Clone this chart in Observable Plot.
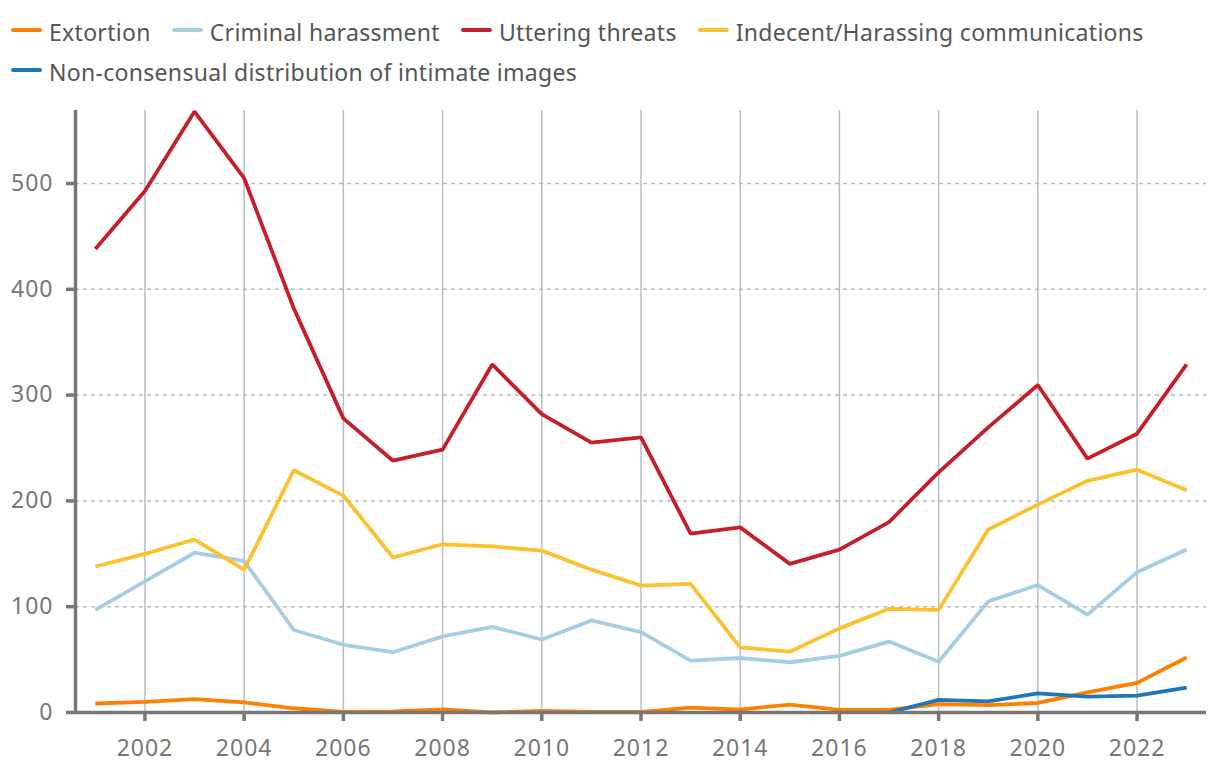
<!DOCTYPE html>
<html>
<head>
<meta charset="utf-8">
<script src="https://cdn.jsdelivr.net/npm/d3@7"></script>
<script src="https://cdn.jsdelivr.net/npm/@observablehq/plot@0.6"></script>
<style>
  html, body { margin: 0; padding: 0; background: #fff; }
  body { width: 1220px; height: 772px; overflow: hidden; font-family: "Noto Sans", sans-serif; }
  #legend { height: 95px; box-sizing: border-box; padding: 12px 0 0 11px; color: #555; font-size: 23px; letter-spacing: 0.3px; }
  .row { height: 40px; display: flex; align-items: center; white-space: nowrap; }
  .item { display: flex; align-items: center; margin-right: 21px; }
  .sw { width: 31px; height: 4px; border-radius: 2px; margin-right: 7px; position: relative; top: -2px; }
  #chart svg text { letter-spacing: 1px; }
</style>
</head>
<body>
<div id="legend"></div>
<div id="chart"></div>
<script>
const years = [2001,2002,2003,2004,2005,2006,2007,2008,2009,2010,2011,2012,2013,2014,2015,2016,2017,2018,2019,2020,2021,2022,2023];
const seriesNames = ["Extortion", "Criminal harassment", "Uttering threats", "Indecent/Harassing communications", "Non-consensual distribution of intimate images"];
const seriesColors = ["#ff7f00", "#a6cee3", "#c4202a", "#fbc12e", "#1f78b4"];
const extortion = [8.5,10,12.7,9.5,4,0.5,1,3,0,1.5,0.5,0.5,4.7,2.8,7.5,2.5,2.5,8,7,9,19,28,52];
const criminalHarassment = [97,124,151,143,78,64,57,72,81,69,87,76,49,51.5,47.5,53.5,67,48,105,120.5,92.5,132.5,154];
const utteringThreats = [438,493,568,505,382,278,238,248.5,329,282,255,260,169,175,140.5,154,180,227,269.5,309.5,240,263.5,329];
const indecent = [138,150,163.5,135,229,205,146.5,159,157,153,135,120,121.5,61.5,57.5,79.5,98,97,173,196.5,219,229.5,210];
const ncdii = [null,null,null,null,null,null,null,null,null,null,null,null,null,null,null,null,0,12,10.5,18,15,16,23.5];
const xTicks = [2002,2004,2006,2008,2010,2012,2014,2016,2018,2020,2022];
const yTicks = [0,100,200,300,400,500];

const allSeries = [extortion, criminalHarassment, utteringThreats, indecent, ncdii];
const data = [];
allSeries.forEach((arr, i) => arr.forEach((v, j) => { if (v !== null) data.push({year: years[j], value: v, series: seriesNames[i]}); }));

// Legend
const legend = document.getElementById("legend");
const rows = [[0,1,2,3],[4]];
rows.forEach(r => {
  const row = document.createElement("div"); row.className = "row";
  r.forEach(i => {
    const it = document.createElement("div"); it.className = "item";
    it.innerHTML = `<span class="sw" style="background:${seriesColors[i]}"></span><span>${seriesNames[i]}</span>`;
    row.appendChild(it);
  });
  legend.appendChild(row);
});

const x0 = 2000.6, x1 = 2023.4;
const chart = Plot.plot({
  width: 1220,
  height: 677,
  marginLeft: 75,
  marginRight: 14,
  marginTop: 15,
  marginBottom: 60,
  style: { fontFamily: "Noto Sans, sans-serif", fontSize: "23px", color: "#777", background: "#fff" },
  x: { domain: [x0, x1] },
  y: { domain: [0, 569] },
  color: { domain: seriesNames, range: seriesColors },
  marks: [
    Plot.ruleX(xTicks, { stroke: "#b3bfc8", strokeWidth: 1.5 }),
    Plot.ruleY(yTicks.filter(d => d > 0), { stroke: "#b3bcc4", strokeWidth: 1.5, strokeDasharray: "4,4" }),
    Plot.axisX({ ticks: xTicks, tickFormat: d => String(d), tickSize: 9, tickPadding: 18, stroke: "#777", strokeWidth: 3.5, fill: "#777", label: null }),
    Plot.axisY({ ticks: yTicks, tickSize: 9, tickPadding: 13, stroke: "#777", strokeWidth: 3.5, fill: "#777", label: null }),
    Plot.lineY(data, { x: "year", y: "value", z: "series", stroke: "series", strokeWidth: 3.8, strokeLinejoin: "miter", strokeLinecap: "butt" }),
    Plot.ruleY([0], { stroke: "#777", strokeWidth: 3.5 }),
    Plot.ruleX([x0], { stroke: "#777", strokeWidth: 3.5 })
  ]
});
document.getElementById("chart").appendChild(chart);
</script>
</body>
</html>
